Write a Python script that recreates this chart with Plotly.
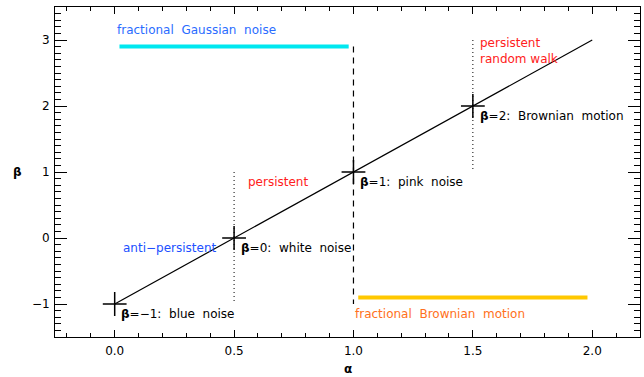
import plotly.graph_objects as go

# data
line_alpha = [0.0, 2.0]
line_beta = [-1.0, 3.0]
pt_alpha = [0.0, 0.5, 1.0, 1.5]
pt_beta = [-1.0, 0.0, 1.0, 2.0]
pt_labels = ["<b>β</b>=−1:&nbsp; blue&nbsp; noise", "<b>β</b>=0:&nbsp; white&nbsp; noise",
             "<b>β</b>=1:&nbsp; pink&nbsp; noise", "<b>β</b>=2:&nbsp; Brownian&nbsp; motion"]
fgn_x = [0.02, 0.98]
fgn_y = [2.9, 2.9]
fbm_x = [1.02, 1.98]
fbm_y = [-0.9, -0.9]
dash_x = [1.0, 1.0]
dash_y = [2.9, -1.0]
dot1_x = [0.5, 0.5]
dot1_y = [1.0, -1.0]
dot2_x = [1.5, 1.5]
dot2_y = [3.0, 1.0]

FAM = "DejaVu Sans, Verdana, sans-serif"

fig = go.Figure()
fig.add_trace(go.Scatter(x=line_alpha, y=line_beta, mode="lines",
                         line=dict(color="black", width=1.2)))
fig.add_trace(go.Scatter(x=fgn_x, y=fgn_y, mode="lines",
                         line=dict(color="#00e8f0", width=4)))
fig.add_trace(go.Scatter(x=fbm_x, y=fbm_y, mode="lines",
                         line=dict(color="#ffc800", width=4)))
fig.add_trace(go.Scatter(x=dash_x, y=dash_y, mode="lines",
                         line=dict(color="black", width=1.2, dash="6px,5px")))
fig.add_trace(go.Scatter(x=dot1_x, y=dot1_y, mode="lines",
                         line=dict(color="black", width=1, dash="1px,3px")))
fig.add_trace(go.Scatter(x=dot2_x, y=dot2_y, mode="lines",
                         line=dict(color="black", width=1, dash="1px,3px")))
fig.add_trace(go.Scatter(x=pt_alpha, y=pt_beta, mode="markers",
                         marker=dict(symbol="cross-thin", size=17,
                                     line=dict(color="black", width=1.5))))

font = dict(family=FAM, size=12)
ann = []
for a, b, t in zip(pt_alpha, pt_beta, pt_labels):
    ann.append(dict(x=a + 0.02, y=b - 0.15, text=t, xanchor="left",
                    yanchor="middle", showarrow=False,
                    font=dict(color="black", **font)))
ann += [
    dict(x=0.0, y=3.15, text="fractional&nbsp; Gaussian&nbsp; noise", xanchor="left",
         showarrow=False, font=dict(color="#2a6cff", **font)),
    dict(x=1.0, y=-1.15, text="fractional&nbsp; Brownian&nbsp; motion", xanchor="left",
         showarrow=False, font=dict(color="#ff7020", **font)),
    dict(x=0.55, y=0.85, text="persistent", xanchor="left",
         showarrow=False, font=dict(color="#ff2020", **font)),
    dict(x=0.025, y=-0.15, text="anti−persistent", xanchor="left",
         showarrow=False, font=dict(color="#2050ff", **font)),
    dict(x=1.52, y=2.84, text="persistent<br>random walk", xanchor="left",
         align="left", showarrow=False, font=dict(color="#ff2020", **font)),
    dict(x=0.5, y=0, xref="paper", yref="paper", yshift=-32, text="<b>α</b>",
         showarrow=False, yanchor="middle",
         font=dict(family=FAM, size=12, color="black")),
    dict(x=0, y=0.5, xref="paper", yref="paper", xshift=-38, text="<b>β</b>",
         showarrow=False, xanchor="center",
         font=dict(family=FAM, size=12, color="black")),
]

fig.update_layout(
    width=644, height=377,
    margin=dict(l=55, r=4, t=7, b=40),
    plot_bgcolor="white", paper_bgcolor="white",
    showlegend=False,
    font=dict(family=FAM, size=12, color="black"),
    annotations=ann,
    xaxis=dict(range=[-0.25, 2.2], tickvals=[0, 0.5, 1.0, 1.5, 2.0],
               ticktext=["0.0", "0.5", "1.0", "1.5", "2.0"],
               ticks="inside", ticklen=7, tickcolor="black", tickwidth=1,
               ticklabelstandoff=3,
               minor=dict(dtick=0.1, tick0=0, ticks="inside", ticklen=4,
                          tickcolor="black", tickwidth=1),
               showline=True, linecolor="black", linewidth=1, mirror="ticks",
               showgrid=False, zeroline=False, automargin=False),
    yaxis=dict(range=[-1.5, 3.5], tickvals=[-1, 0, 1, 2, 3],
               ticktext=["−1", "0", "1", "2", "3"],
               ticks="inside", ticklen=12, tickcolor="black", tickwidth=1,
               ticklabelstandoff=2,
               minor=dict(dtick=0.1, tick0=0, ticks="inside", ticklen=6,
                          tickcolor="black", tickwidth=1),
               showline=True, linecolor="black", linewidth=1, mirror="ticks",
               showgrid=False, zeroline=False, automargin=False),
)

fig.write_html("out.html", config={"displayModeBar": False},
               post_script="document.body.style.margin='0';document.body.style.overflow='hidden';")
